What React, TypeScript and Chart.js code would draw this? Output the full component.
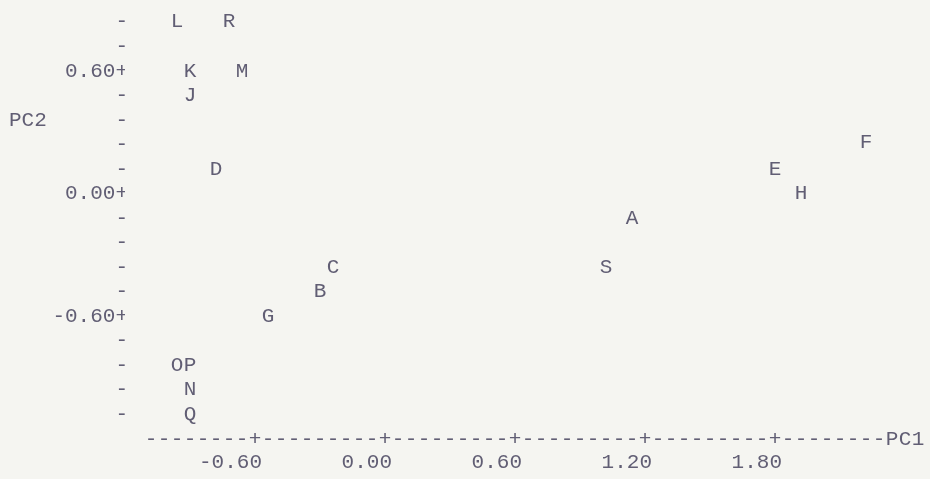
import React, { useEffect, useRef } from "react";
import { Chart, registerables } from "chart.js";

Chart.register(...registerables);

// ---- data ----
const pointLabels = ["L", "R", "K", "M", "J", "D", "F", "E", "H", "A", "S", "C", "B", "G", "O", "P", "N", "Q"];
const pc1Values = [-0.96, -0.72, -0.9, -0.66, -0.9, -0.78, 2.22, 1.8, 1.92, 1.14, 1.02, -0.24, -0.3, -0.54, -0.96, -0.9, -0.9, -0.9];
const pc2Values = [0.84, 0.84, 0.6, 0.6, 0.48, 0.12, 0.25, 0.12, 0.0, -0.12, -0.36, -0.36, -0.48, -0.6, -0.84, -0.84, -0.96, -1.08];

const xTickValues = [-0.6, 0, 0.6, 1.2, 1.8];
const yTickValues = [-1.08, -0.96, -0.84, -0.72, -0.6, -0.48, -0.36, -0.24, -0.12, 0, 0.12, 0.24, 0.36, 0.48, 0.6, 0.72, 0.84];
const yMajorTicks = [-0.6, 0, 0.6];

const xAxisRow = "--------+---------+---------+---------+---------+--------PC1";
const xAxisRowStart = -1.08;
const xAxisCharStep = 0.06;
const xAxisRowY = -1.2;
const yTitle = "PC2";
const yTitleRow = 0.36;

const FONT_FAMILY = "'Liberation Mono', 'DejaVu Sans Mono', monospace";
const FONT_SIZE = 21;
const INK = "#615e74";
const PAPER = "#f5f5f1";

const textPlugin = {
  id: "charPlotText",
  afterDatasetsDraw(chart: any) {
    const ctx = chart.ctx;
    const xs = chart.scales.x;
    const ys = chart.scales.y;
    ctx.save();
    ctx.font = `${FONT_SIZE}px ${FONT_FAMILY}`;
    ctx.fillStyle = INK;
    ctx.textAlign = "center";
    ctx.textBaseline = "middle";
    // point labels
    const meta = chart.getDatasetMeta(0);
    meta.data.forEach((el: any, i: number) => {
      ctx.fillText(pointLabels[i], el.x, el.y);
    });
    // x axis row made of characters
    const rowY = ys.getPixelForValue(xAxisRowY);
    for (let i = 0; i < xAxisRow.length; i++) {
      const ch = xAxisRow[i];
      const px = xs.getPixelForValue(xAxisRowStart + i * xAxisCharStep);
      ctx.fillText(ch, px, rowY);
    }
    // y title
    ctx.textAlign = "left";
    ctx.fillText(yTitle, 9, ys.getPixelForValue(yTitleRow));
    ctx.restore();
  },
};

export default function App() {
  const ref = useRef<HTMLCanvasElement | null>(null);

  useEffect(() => {
    if (!ref.current) return;
    const font = { family: FONT_FAMILY, size: FONT_SIZE };
    const chart = new Chart(ref.current, {
      type: "scatter",
      data: {
        datasets: [
          {
            data: pc1Values.map((x, i) => ({ x, y: pc2Values[i] })),
            pointRadius: 0,
            pointHoverRadius: 0,
          },
        ],
      },
      options: {
        animation: false,
        responsive: true,
        maintainAspectRatio: false,
        layout: { padding: { top: 5, right: 25, left: 0, bottom: 0 } },
        plugins: { legend: { display: false }, tooltip: { enabled: false } },
        scales: {
          x: {
            type: "linear",
            min: -1.2,
            max: 2.4,
            grid: { display: false, drawTicks: false },
            border: { display: false },
            afterBuildTicks: (scale: any) => {
              scale.ticks = xTickValues.map((v) => ({ value: v }));
            },
            afterFit: (scale: any) => {
              scale.height = 40;
            },
            ticks: {
              autoSkip: false,
              maxRotation: 0,
              align: "end",
              labelOffset: 7,
              padding: 11,
              color: INK,
              font,
              callback: (v: any) => Number(v).toFixed(2),
            },
          },
          y: {
            type: "linear",
            min: -1.2,
            max: 0.9,
            grid: { display: false, drawTicks: false },
            border: { display: false },
            afterBuildTicks: (scale: any) => {
              scale.ticks = yTickValues.map((v) => ({ value: v }));
            },
            afterFit: (scale: any) => {
              scale.width = 125;
            },
            ticks: {
              autoSkip: false,
              padding: -3,
              color: INK,
              font,
              callback: (v: any) => {
                const n = Number(v);
                return yMajorTicks.some((m) => Math.abs(m - n) < 1e-6) ? n.toFixed(2) + "+" : "-";
              },
            },
          },
        },
      },
      plugins: [textPlugin],
    });
    return () => chart.destroy();
  }, []);

  return (
    <div style={{ position: "fixed", left: 0, top: 0, width: 930, height: 479, background: PAPER }}>
      <canvas ref={ref} />
    </div>
  );
}
